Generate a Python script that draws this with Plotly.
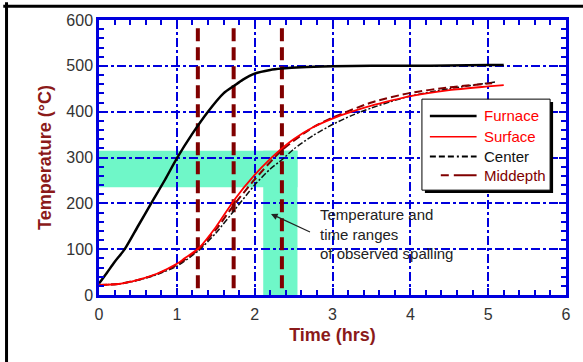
import plotly.graph_objects as go

# Furnace gas temperature history
furnace_time = [0, 0.1, 0.2, 0.33, 0.5, 0.67, 0.85, 1.0, 1.2, 1.4, 1.6, 1.74, 1.85, 2.0, 2.2, 2.35, 2.6, 3.0, 3.5, 4.0, 4.5, 5.0, 5.2]
furnace_temp = [25, 48, 72, 100, 150, 200, 252, 298, 352, 400, 440, 457, 470, 483, 491, 494, 497, 499, 500, 500, 501, 502, 502]

# Specimen temperatures: surface, center and mid-depth
surface_time = [0, 0.25, 0.5, 0.75, 1.0, 1.1, 1.28, 1.5, 1.74, 2.0, 2.2, 2.35, 2.5, 2.75, 3.0, 3.25, 3.5, 3.75, 4.0, 4.5, 5.0, 5.2]
surface_temp = [22, 24, 33, 47, 68, 80, 102, 148, 208, 262, 297, 320, 340, 366, 385, 400, 413, 424, 434, 447, 455, 458]

center_time = [0, 0.25, 0.5, 0.75, 1.0, 1.28, 1.5, 1.74, 2.0, 2.2, 2.35, 2.5, 2.75, 3.0, 3.25, 3.5, 3.75, 4.0, 4.5, 5.1]
center_temp = [22, 24, 32, 45, 63, 97, 135, 185, 240, 275, 295, 318, 348, 372, 392, 408, 422, 434, 450, 465]

middepth_time = [0, 0.25, 0.5, 0.75, 1.0, 1.28, 1.5, 1.74, 2.0, 2.35, 2.75, 3.0, 3.5, 4.0, 4.5, 5.05]
middepth_temp = [22, 24, 33, 46, 66, 100, 142, 198, 252, 316, 366, 387, 420, 441, 453, 462]

# Observed spalling: times (hrs) and ranges
spall_times = [1.27, 1.73, 2.35]
spall_line_temp = [15, 590]
spall_temp_range = [235, 315]
spall_time_range = [2.11, 2.55]

BLUE = "#0000dd"
DARKRED = "#8b1a1a"
GREEN = "#6ff7c8"
FONT = "Liberation Sans, Arial"

fig = go.Figure()

for t in spall_times:
    fig.add_trace(go.Scatter(x=[t, t], y=spall_line_temp, mode="lines",
                             line=dict(color="#800000", width=4, dash="13px,6px"),
                             showlegend=False, hoverinfo="skip"))

smooth = dict(shape="spline", smoothing=0.7)
fig.add_trace(go.Scatter(x=center_time, y=center_temp, mode="lines", name="Center",
                         line=dict(color="#111111", width=1.5, dash="6px,2px,2px,2px", **smooth)))
fig.add_trace(go.Scatter(x=middepth_time, y=middepth_temp, mode="lines", name="Middepth",
                         line=dict(color="#800000", width=2, dash="8px,4px", **smooth)))
fig.add_trace(go.Scatter(x=surface_time, y=surface_temp, mode="lines", name="Surface",
                         line=dict(color="#ff0000", width=1.8, **smooth)))
fig.add_trace(go.Scatter(x=furnace_time, y=furnace_temp, mode="lines", name="Furnace",
                         line=dict(color="#000000", width=2.5, **smooth)))

shapes = []
# spalling bands (L-shaped highlight)
shapes.append(dict(type="rect", xref="x", yref="y", x0=0, x1=spall_time_range[1],
                   y0=spall_temp_range[0], y1=spall_temp_range[1],
                   fillcolor=GREEN, line=dict(width=0), layer="below"))
shapes.append(dict(type="rect", xref="x", yref="y", x0=spall_time_range[0], x1=spall_time_range[1],
                   y0=0, y1=spall_temp_range[1],
                   fillcolor=GREEN, line=dict(width=0), layer="below"))

# outer frame
shapes.append(dict(type="line", xref="paper", yref="paper", x0=-0.198, x1=-0.198, y0=1.065, y1=-0.25,
                   line=dict(color="black", width=3)))
shapes.append(dict(type="line", xref="paper", yref="paper", x0=-0.205, x1=1.04, y0=1.050, y1=1.050,
                   line=dict(color="black", width=3)))

# legend box with drop shadow
def px(x):
    return (x - 99) / 470.0

def py(y):
    return (295 - y) / 278.0

shapes.append(dict(type="rect", xref="paper", yref="paper", x0=px(427), x1=px(556), y0=py(192), y1=py(100),
                   fillcolor="black", line=dict(width=0)))
shapes.append(dict(type="rect", xref="paper", yref="paper", x0=px(424), x1=px(553), y0=py(189), y1=py(97),
                   fillcolor="white", line=dict(color="black", width=1)))

legend_rows = [
    ("Furnace", "#ff0000", dict(color="black", width=2.5), 432, 114),
    ("Surface", "#ff0000", dict(color="#ff0000", width=1.5), 432, 135),
    ("Center", "#111111", dict(color="black", width=2, dash="6px,3px,6px,3px,6px,3px,2px,3px"), 432, 155),
    ("Middepth", "#800000", dict(color="#800000", width=2, dash="8px,5px,25px,5px"), 443, 174),
]

annotations = []
for label, color, ln, x0, y in legend_rows:
    shapes.append(dict(type="line", xref="paper", yref="paper", x0=px(x0), x1=px(479), y0=py(y), y1=py(y),
                       line=ln))
    annotations.append(dict(xref="paper", yref="paper", x=px(484), y=py(y), text=label, showarrow=False,
                            xanchor="left", yanchor="middle",
                            font=dict(family=FONT, size=15, color=color)))

# spalling note with arrow
annotations.append(dict(x=2.21, y=177, ax=2.73, ay=136, xref="x", yref="y", axref="x", ayref="y",
                        text="", showarrow=True, arrowhead=2, arrowsize=1.1, arrowwidth=1.2,
                        arrowcolor="#222222"))
annotations.append(dict(x=2.82, y=198, xref="x", yref="y", xanchor="left", yanchor="top", align="left",
                        text="Temperature and<br>time ranges<br>of observed spalling", showarrow=False,
                        font=dict(family=FONT, size=15, color="#222222")))

axis_common = dict(
    showline=True, linecolor=BLUE, linewidth=2.5, mirror="ticks",
    ticks="inside", tickcolor=BLUE, tickwidth=2, ticklen=7,
    showgrid=True, gridcolor=BLUE, gridwidth=2, griddash="dashdot",
    zeroline=False,
    tickfont=dict(family=FONT, size=16, color="#333333"),
)

fig.update_layout(
    width=583, height=362,
    margin=dict(l=99, r=14, t=17, b=67),
    paper_bgcolor="white", plot_bgcolor="white",
    showlegend=False,
    shapes=shapes, annotations=annotations,
    xaxis=dict(range=[0, 6], dtick=1, ticklabelstandoff=3, **axis_common,
               minor=dict(dtick=0.2, ticks="inside", ticklen=5, tickcolor=BLUE, tickwidth=2, showgrid=False),
               title=dict(text="<b>Time (hrs)</b>", standoff=7,
                          font=dict(family=FONT, size=18, color=DARKRED))),
    yaxis=dict(range=[0, 600], dtick=100, **axis_common,
               minor=dict(dtick=20, ticks="inside", ticklen=5, tickcolor=BLUE, tickwidth=2, showgrid=False),
               title=dict(text="<b>Temperature (°C)</b>", standoff=11,
                          font=dict(family=FONT, size=18, color=DARKRED))),
)

fig.write_html("out.html")
